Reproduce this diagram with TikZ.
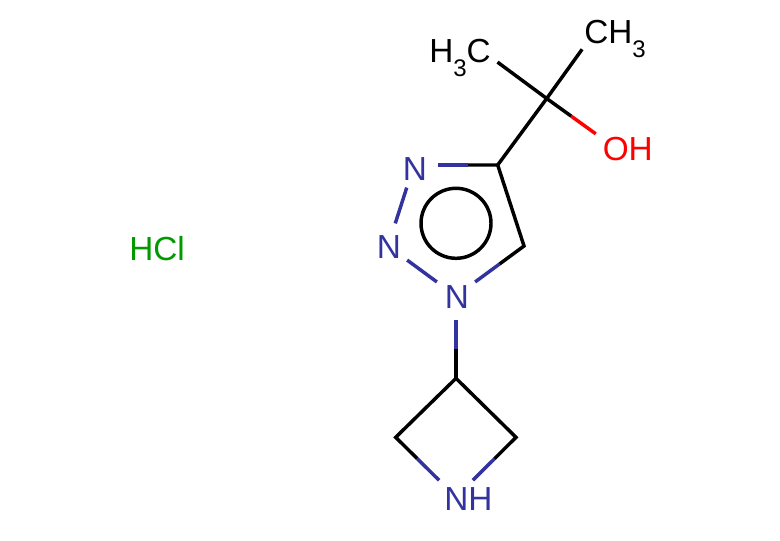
\documentclass[tikz,border=0pt]{standalone}
\usepackage{fontspec}
\setmainfont{Liberation Sans}
\usetikzlibrary{calc}
\definecolor{nblue}{RGB}{51,51,160}
\definecolor{ored}{RGB}{255,0,0}
\definecolor{clgreen}{RGB}{0,153,0}
\tikzset{
  atomzone/.style={circle,inner sep=0pt,minimum size=35.25pt},
  atomtext/.style={anchor=base west,inner sep=0pt,font=\fontsize{25}{25}\selectfont},
  bondline/.style={line width=2.6pt,line join=miter,line cap=butt},
  ringline/.style={line width=2.6pt,draw=black,circle,inner sep=0pt,minimum size=52.5pt},
}
\newcommand{\subdigit}{\raisebox{-10.6pt}{\fontsize{18}{18}\selectfont 3}}
\newcommand{\halfway}[3]{\path (#1) -- (#2) coordinate[midway] (#3);}
\begin{document}
\begin{tikzpicture}[x=0.75pt,y=-0.75pt]
\useasboundingbox (0,0) rectangle (780,540);
% carbon centres
\coordinate (Cq) at (546.7,98.5);
\coordinate (C4) at (497.7,165);
\coordinate (C5) at (524,246);
\coordinate (C3a) at (456,378.3);
\coordinate (CL) at (395.7,437.3);
\coordinate (CR) at (516,437.3);
% heteroatom / terminal zones
\node[atomzone] (N3) at (414,165) {};
\node[atomzone] (N2) at (388,246) {};
\node[atomzone] (N1) at (456,296) {};
\node[atomzone] (NH) at (456,497) {};
\node[atomzone] (Me1) at (478.4,48) {};
\node[atomzone] (Me2) at (596,30) {};
\node[atomzone] (OH) at (615,147.7) {};
% labels
\node[atomtext,text=nblue] (tN3) at (402.5,180) {N};
\node[atomtext,text=nblue] (tN2) at (376.5,258.3) {N};
\node[atomtext,text=nblue] (tN1) at (444.5,308) {N};
\node[atomtext,text=nblue] (tNH) at (444,510.7) {NH};
\node[atomtext,text=black] (tMe1) at (429,62.3) {H\subdigit C};
\node[atomtext,text=black] (tMe2) at (584,43.3) {CH\subdigit};
\node[atomtext,text=ored] (tOH) at (602.5,160.7) {OH};
\node[atomtext,text=clgreen] (tHCl) at (129,260) {HCl};
% midpoints
\halfway{C4}{N3}{mA}
\halfway{C5}{N1}{mB}
\halfway{C3a}{N1}{mC}
\halfway{CL}{NH}{mD}
\halfway{CR}{NH}{mE}
\halfway{Cq}{OH}{mF}
% black parts
\draw[bondline] (mA) -- (C4) -- (C5) -- (mB);
\draw[bondline] (C4) -- (Cq) -- (Me2);
\draw[bondline] (Me1) -- (Cq) -- (mF);
\draw[bondline] (mC) -- (C3a);
\draw[bondline] (mD) -- (CL) -- (C3a) -- (CR) -- (mE);
% coloured parts
\draw[bondline,nblue] (N3) -- (mA);
\draw[bondline,nblue] (N1) -- (mB);
\draw[bondline,nblue] (N1) -- (mC);
\draw[bondline,nblue] (NH) -- (mD);
\draw[bondline,nblue] (NH) -- (mE);
\draw[bondline,nblue] (N3) -- (N2);
\draw[bondline,nblue] (N2) -- (N1);
\draw[bondline,ored] (OH) -- (mF);
% aromatic ring
\node[ringline] (ring) at (456,223.3) {};
\end{tikzpicture}
\end{document}
